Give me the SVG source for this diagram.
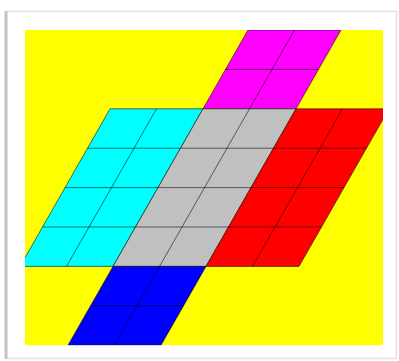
<svg xmlns="http://www.w3.org/2000/svg" width="399" height="361" viewBox="0 0 399 361">
  <defs>
    <clipPath id="clip">
      <rect x="25" y="30" width="358" height="315.2"/>
    </clipPath>
    <style>
      .cell { stroke: #000; stroke-opacity: 0.55; stroke-width: 1; vector-effect: non-scaling-stroke; }
      .grid { fill: none; stroke: #000; stroke-opacity: 0.55; stroke-width: 1; vector-effect: non-scaling-stroke; }
    </style>
  </defs>
  <rect x="0" y="0" width="399" height="361" fill="#ffffff"/>
  <g id="frame">
    <rect x="6.5" y="11.5" width="390" height="347" fill="#ffffff" stroke="#e2e2e2" stroke-width="1.5"/>
    <line x1="6" y1="11" x2="6" y2="359" stroke="#c4c4c4" stroke-width="3"/>
  </g>
  <rect id="background" x="25" y="30" width="358" height="315.2" fill="#ffff00"/>
  <g clip-path="url(#clip)">
    <g transform="matrix(46.5 0 -22.5 39.4 155 30)">
      <g id="magenta">
        <rect x="2" y="0" width="2" height="2" fill="#ff00ff" class="cell"/>
        <path class="grid" d="M3 0V2M2 1H4"/>
      </g>
      <g id="cyan">
        <rect x="0" y="2" width="2" height="4" fill="#00ffff" class="cell"/>
        <path class="grid" d="M1 2V6M0 3H2M0 4H2M0 5H2"/>
      </g>
      <g id="gray">
        <rect x="2" y="2" width="2" height="4" fill="#c0c0c0" class="cell"/>
        <path class="grid" d="M3 2V6M2 3H4M2 4H4M2 5H4"/>
      </g>
      <g id="red">
        <rect x="4" y="2" width="2" height="4" fill="#ff0000" class="cell"/>
        <path class="grid" d="M5 2V6M4 3H6M4 4H6M4 5H6"/>
      </g>
      <g id="blue">
        <rect x="2" y="6" width="2" height="2" fill="#0000ff" class="cell"/>
        <path class="grid" d="M3 6V8M2 7H4"/>
      </g>
    </g>
  </g>
</svg>
